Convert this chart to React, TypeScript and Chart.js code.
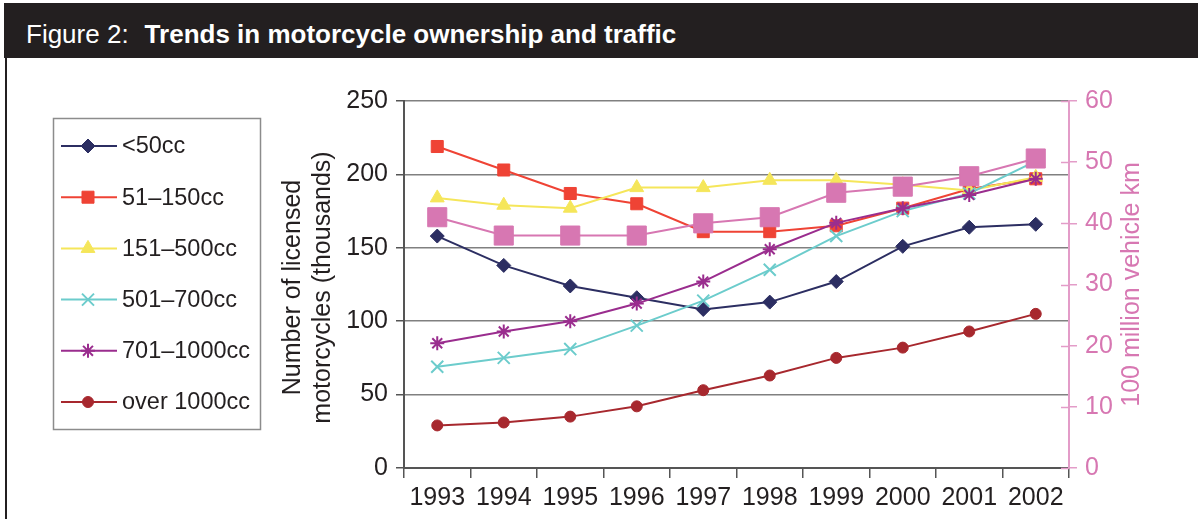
import React, { useEffect, useRef } from 'react';
import { Chart, registerables } from 'chart.js';
import { drawPoint } from 'chart.js/helpers';

Chart.register(...registerables);

const FONT = '"Liberation Sans", Arial, Helvetica, sans-serif';

const years = ['1993', '1994', '1995', '1996', '1997', '1998', '1999', '2000', '2001', '2002'];
const under50 = [158, 138, 124, 116, 108, 113, 127, 151, 164, 166];
const cc51to150 = [219, 203, 187, 180, 161, 161, 165, 177, 190, 197];
const cc151to500 = [184, 179, 177, 191, 191, 196, 196, 193, 189, 198];
const cc501to700 = [69, 75, 81, 97, 114, 135, 158, 175, 187, 209];
const cc701to1000 = [85, 93, 100, 112, 127, 149, 167, 177, 186, 197];
const over1000 = [29, 31, 35, 42, 53, 63, 75, 82, 93, 105];
const vehicleKm = [41, 38, 38, 38, 40, 41, 45, 46, 47.7, 50.6];

const leftTicks = [0, 50, 100, 150, 200, 250];
const rightTicks = [0, 10, 20, 30, 40, 50, 60];

const TEXT = '#231f20';
const PINK = '#d777b2';
const PINK_LINE = '#e39cc8';

export default function App() {
  const ref = useRef<HTMLCanvasElement>(null);

  useEffect(() => {
    const canvas = ref.current!;
    const mk = (label: string, data: number[], color: string, style: any, radius: number, order: number, axis = 'y', pbw = 1) => ({
      label,
      data,
      borderColor: color,
      backgroundColor: color,
      pointBackgroundColor: color,
      pointBorderColor: color,
      pointStyle: style,
      pointRadius: radius,
      pointHoverRadius: radius,
      pointBorderWidth: pbw,
      borderWidth: 2,
      tension: 0,
      fill: false,
      yAxisID: axis,
      order,
    });

    const datasets = [
      mk('<50cc', under50, '#2c2e62', 'rectRot', 7, 6),
      mk('51–150cc', cc51to150, '#ef4335', 'rect', 8.5, 5),
      mk('151–500cc', cc151to500, '#f5e65a', 'triangle', 8, 4),
      mk('501–700cc', cc501to700, '#6ccccc', 'crossRot', 8.5, 2, 'y', 2),
      mk('701–1000cc', cc701to1000, '#9a2d8e', 'star', 7, 1, 'y', 2),
      mk('over 1000cc', over1000, '#a7282e', 'circle', 5.5, 3),
      mk('100 million vehicle km', vehicleKm, PINK, 'rect', 13.5, 0, 'y1'),
    ];

    const overlay = {
      id: 'overlay',
      afterDraw(chart: any) {
        const ctx = chart.ctx as CanvasRenderingContext2D;
        ctx.save();
        // inner ticks of right axis
        const y1 = chart.scales.y1;
        ctx.strokeStyle = PINK_LINE;
        ctx.lineWidth = 1.5;
        rightTicks.forEach((v) => {
          const py = Math.round(y1.getPixelForValue(v)) + 0.5;
          ctx.beginPath();
          ctx.moveTo(y1.left - 8, py);
          ctx.lineTo(y1.left, py);
          ctx.stroke();
        });
        // axis titles
        const area = chart.chartArea;
        const cy = (area.top + area.bottom) / 2;
        ctx.fillStyle = TEXT;
        ctx.font = `25px ${FONT}`;
        ctx.textAlign = 'center';
        ctx.textBaseline = 'middle';
        ctx.save();
        ctx.translate(293, cy + 3);
        ctx.rotate(-Math.PI / 2);
        ctx.fillText('Number of licensed', 0, 0);
        ctx.restore();
        ctx.save();
        ctx.translate(323, cy + 3);
        ctx.rotate(-Math.PI / 2);
        ctx.fillText('motorcycles (thousands)', 0, 0);
        ctx.restore();
        ctx.save();
        ctx.fillStyle = PINK;
        ctx.translate(1132, cy);
        ctx.rotate(-Math.PI / 2);
        ctx.fillText('100 million vehicle km', 0, 0);
        ctx.restore();
        // legend
        ctx.strokeStyle = '#8c8c8c';
        ctx.lineWidth = 1.5;
        ctx.strokeRect(53.5, 118.5, 207, 311);
        ctx.font = `23.5px ${FONT}`;
        ctx.textAlign = 'left';
        ctx.textBaseline = 'middle';
        chart.data.datasets.slice(0, 6).forEach((ds: any, i: number) => {
          const ly = 146 + i * 51.2;
          ctx.strokeStyle = ds.borderColor;
          ctx.lineWidth = 2;
          ctx.beginPath();
          ctx.moveTo(61, ly);
          ctx.lineTo(117, ly);
          ctx.stroke();
          ctx.fillStyle = ds.pointBackgroundColor;
          ctx.strokeStyle = ds.pointBorderColor;
          ctx.lineWidth = ds.pointBorderWidth;
          drawPoint(ctx, { pointStyle: ds.pointStyle, radius: ds.pointRadius, borderWidth: ds.pointBorderWidth, rotation: 0 } as any, 88, ly);
          ctx.fillStyle = TEXT;
          ctx.fillText(ds.label, 122, ly + 1);
        });
        ctx.restore();
      },
    };

    const chart = new Chart(canvas, {
      type: 'line',
      data: { labels: years, datasets: datasets as any },
      options: {
        responsive: false,
        animation: false,
        events: [],
        layout: { padding: { top: 101, left: 0, right: 0, bottom: 0 } },
        plugins: { legend: { display: false }, tooltip: { enabled: false }, title: { display: false } },
        scales: {
          x: {
            offset: true,
            afterFit: (s: any) => { s.height = 51; },
            grid: { offset: true, drawOnChartArea: false, drawTicks: true, tickLength: 10, color: '#555', lineWidth: 1.5 },
            border: { color: '#555', width: 2 },
            ticks: { color: TEXT, font: { family: FONT, size: 25 }, padding: 5, maxRotation: 0, autoSkip: false },
          },
          y: {
            position: 'left',
            min: 0,
            max: 250,
            afterFit: (s: any) => { s.width = 404; },
            afterBuildTicks: (s: any) => { s.ticks = leftTicks.map((v) => ({ value: v })); },
            grid: { color: '#808080', lineWidth: 1.5, tickLength: 8, tickColor: '#555' },
            border: { color: '#555', width: 2 },
            ticks: { color: TEXT, font: { family: FONT, size: 25 }, padding: 8 },
          },
          y1: {
            position: 'right',
            min: 0,
            max: 60,
            afterFit: (s: any) => { s.width = 129; },
            afterBuildTicks: (s: any) => { s.ticks = rightTicks.map((v) => ({ value: v })); },
            grid: { drawOnChartArea: false, color: PINK_LINE, lineWidth: 1.5, tickLength: 8 },
            border: { color: PINK_LINE, width: 2 },
            ticks: { color: PINK, font: { family: FONT, size: 25 }, padding: 8 },
          },
        },
      },
      plugins: [overlay],
    });
    return () => chart.destroy();
  }, []);

  return (
    <div style={{ position: 'fixed', left: 0, top: 0, width: 1198, height: 519, background: '#fff', overflow: 'hidden' }}>
      <div
        style={{
          position: 'absolute', left: 4, top: 3, right: 0, height: 55, background: '#231f20', color: '#fff',
          fontFamily: FONT, fontSize: 26, lineHeight: '62px', paddingLeft: 22, boxSizing: 'border-box', whiteSpace: 'pre',
        }}
      >
        <span>Figure 2:</span>
        <b style={{ marginLeft: 16 }}>Trends in motorcycle ownership and traffic</b>
      </div>
      <div style={{ position: 'absolute', left: 5, top: 58, width: 2, bottom: 0, background: '#231f20' }} />
      <canvas ref={ref} width={1198} height={519} style={{ position: 'absolute', left: 0, top: 0 }} />
    </div>
  );
}
